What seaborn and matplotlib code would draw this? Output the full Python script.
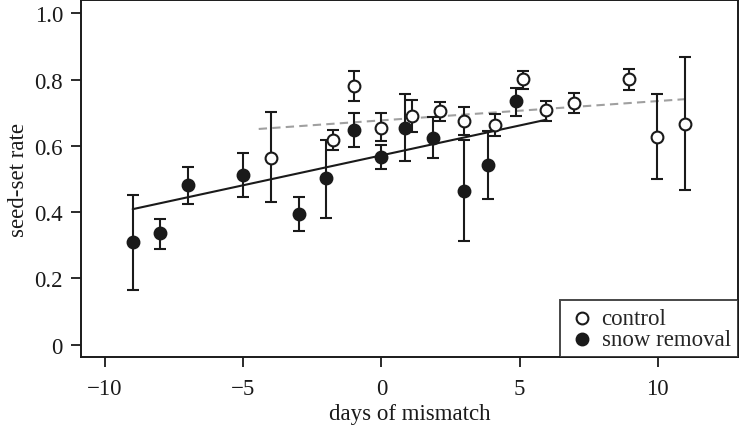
import numpy as np
import matplotlib
matplotlib.use('Agg')
import matplotlib.pyplot as plt
import seaborn as sns

# control (open circles)
ctrl_x = [-4.0, -1.74, -1.0, 0.0, 1.12, 2.12, 3.0, 4.12, 5.11, 5.97, 6.98, 8.97, 9.98, 10.97]
ctrl_y = [0.563, 0.619, 0.781, 0.653, 0.690, 0.704, 0.675, 0.664, 0.801, 0.708, 0.728, 0.801, 0.627, 0.666]
ctrl_lo = [0.430, 0.587, 0.734, 0.615, 0.642, 0.675, 0.632, 0.631, 0.773, 0.676, 0.698, 0.769, 0.500, 0.468]
ctrl_hi = [0.701, 0.649, 0.827, 0.698, 0.739, 0.731, 0.717, 0.696, 0.825, 0.736, 0.758, 0.832, 0.756, 0.867]

# snow removal (filled circles)
snow_x = [-9.0, -8.0, -7.0, -5.0, -3.0, -2.0, -1.0, 0.0, 0.87, 1.87, 3.0, 3.86, 4.86]
snow_y = [0.309, 0.336, 0.481, 0.511, 0.394, 0.502, 0.647, 0.565, 0.655, 0.623, 0.465, 0.542, 0.734]
snow_lo = [0.165, 0.290, 0.426, 0.445, 0.342, 0.382, 0.598, 0.529, 0.555, 0.564, 0.313, 0.441, 0.690]
snow_hi = [0.452, 0.380, 0.535, 0.579, 0.447, 0.619, 0.698, 0.602, 0.757, 0.686, 0.619, 0.645, 0.775]

# fitted lines (end points)
fit_snow_x = [-9.0, 5.97]
fit_snow_y = [0.409, 0.679]
fit_ctrl_x = [-4.44, 11.0]
fit_ctrl_y = [0.651, 0.741]

sns.set_style('ticks')
plt.rcParams['font.family'] = ['Liberation Serif', 'DejaVu Serif']
fs = 16.5

fig = plt.figure(figsize=(7.39, 4.27), dpi=100)
ax = fig.add_axes([0.1096, 0.1616, 0.889, 0.836])

sns.lineplot(x=fit_ctrl_x, y=fit_ctrl_y, ax=ax, color='#a0a0a0', lw=1.5,
             linestyle=(0, (4, 2.5)), zorder=1)
sns.lineplot(x=fit_snow_x, y=fit_snow_y, ax=ax, color='#1a1a1a', lw=1.5, zorder=1)

for xs, ys, lo, hi in [(ctrl_x, ctrl_y, ctrl_lo, ctrl_hi), (snow_x, snow_y, snow_lo, snow_hi)]:
    ys = np.array(ys)
    err = [ys - np.array(lo), np.array(hi) - ys]
    ax.errorbar(xs, ys, yerr=err, fmt='none', ecolor='#1a1a1a', elinewidth=1.5,
                capsize=4.5, capthick=1.5, zorder=2)

ax.scatter(ctrl_x, ctrl_y, s=72, facecolor='white', edgecolor='#1a1a1a', lw=1.5,
           zorder=3, label='control')
ax.scatter(snow_x, snow_y, s=72, facecolor='#1a1a1a', edgecolor='#1a1a1a', lw=1.5,
           zorder=3, label='snow removal')

ax.set_xlim(-10.87, 12.9)
ax.set_ylim(-0.037, 1.04)
ax.set_xticks([-10, -5, 0, 5, 10])
ax.set_xticklabels(['\u221210', '\u22125', '0', '5', '10'])
ax.set_yticks([0, 0.2, 0.4, 0.6, 0.8, 1.0])
ax.set_yticklabels(['0', '0.2', '0.4', '0.6', '0.8', '1.0'])
ax.tick_params(direction='out', length=7, width=1.3, colors='#1a1a1a',
               labelsize=fs)
ax.tick_params(axis='x', pad=8)
ax.tick_params(axis='y', pad=6)
for s in ax.spines.values():
    s.set_linewidth(1.4)
    s.set_color('#1a1a1a')
ax.set_xlabel('days of mismatch', fontsize=fs, labelpad=3, color='#1a1a1a')
ax.set_ylabel('seed-set rate', fontsize=fs, labelpad=4, color='#1a1a1a')

leg = ax.legend(loc='lower right', frameon=True, fancybox=False, fontsize=fs,
                handletextpad=0.2, borderpad=0.32, labelspacing=0.0,
                handlelength=1.3, borderaxespad=0, markerscale=1.0)
leg.get_frame().set_edgecolor('#1a1a1a')
leg.get_frame().set_linewidth(1.4)

fig.savefig('out.png', dpi=100)
